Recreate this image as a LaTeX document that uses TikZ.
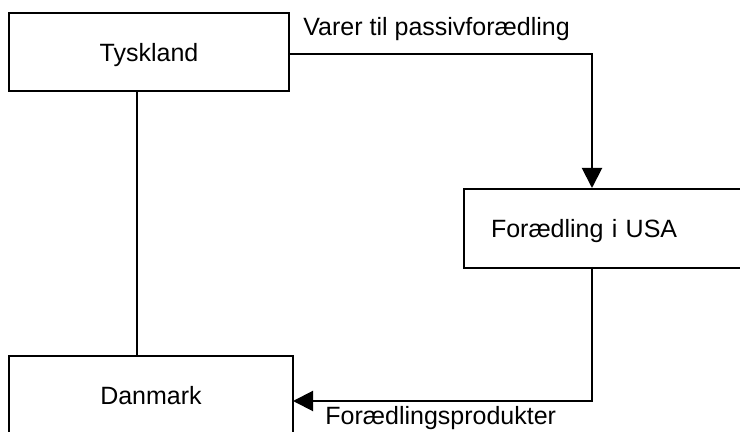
\documentclass[tikz,border=0pt]{standalone}
\usepackage{fontspec}
\setmainfont{Liberation Sans}
\usetikzlibrary{arrows.meta}

\begin{document}
\begin{tikzpicture}[x=0.5pt, y=-0.5pt,
        land/.style={draw, line width=1pt, inner sep=0pt, text depth=0pt, minimum width=140pt, minimum height=39pt, font=\fontsize{12.5}{15}\selectfont},
        flow/.style={line width=1pt, -{Triangle[length=10pt, width=10pt]}},
        lbl/.style={inner sep=0pt, font=\fontsize{12.5}{15}\selectfont}]
        \useasboundingbox (0,0) rectangle (740,432);
        \clip (0,0) rectangle (740,432);

        \node (tysk)    at (149,52)   [land] {Tyskland};
        \node (dan)     at (151,395)  [land, minimum width=142pt] {Danmark};
        \node (fored)   at (463,188)  [land, anchor=north west, minimum height=39.5pt, inner xsep=13.5pt, text width=121.5pt, align=left] {Forædling i USA};

        \coordinate (inn)  at (592,188);
        \coordinate (ud)   at (592,267);
        \coordinate (dind) at (293,401);

        \draw[line width=1pt]       ([xshift=-6pt]tysk.south)  --  ([xshift=-7pt]dan.north);
        \draw[flow]                 ([yshift=-1pt]tysk.east)   -|  (inn);
        \draw[flow]                 (ud)                       |-  (dind);

        \node (varer)   at (303,36)   [lbl, anchor=base west] {Varer til passivforædling};
        \node (prod)    at (325,425)  [lbl, anchor=base west] {Forædlingsprodukter};
    \end{tikzpicture}
\end{document}
